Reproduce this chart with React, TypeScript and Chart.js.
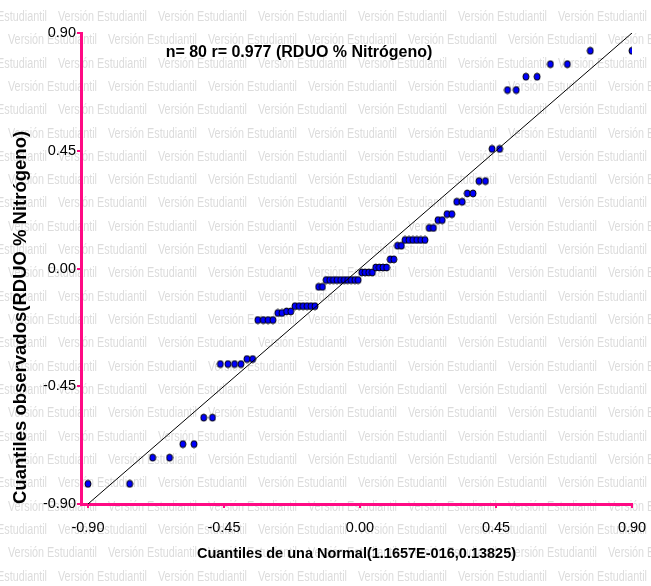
import { useEffect, useRef } from "react";
import { Chart, registerables } from "chart.js";

Chart.register(...registerables);

const xQuantiles = [
  -0.900, -0.762, -0.686, -0.630, -0.586, -0.549, -0.517, -0.488, -0.462, -0.437,
  -0.415, -0.394, -0.374, -0.355, -0.338, -0.320, -0.304, -0.288, -0.272, -0.258,
  -0.243, -0.229, -0.215, -0.201, -0.188, -0.175, -0.162, -0.149, -0.137, -0.124,
  -0.112, -0.100, -0.088, -0.076, -0.064, -0.052, -0.041, -0.029, -0.017, -0.006,
  0.006, 0.017, 0.029, 0.041, 0.052, 0.064, 0.076, 0.088, 0.100, 0.112,
  0.124, 0.137, 0.149, 0.162, 0.175, 0.188, 0.201, 0.215, 0.229, 0.243,
  0.258, 0.272, 0.288, 0.304, 0.320, 0.338, 0.355, 0.374, 0.394, 0.415,
  0.437, 0.462, 0.488, 0.517, 0.549, 0.586, 0.630, 0.686, 0.762, 0.900,
];

const observed = [
  -0.823, -0.823, -0.723, -0.723, -0.671, -0.671, -0.570, -0.570, -0.365, -0.365,
  -0.365, -0.365, -0.346, -0.346, -0.197, -0.197, -0.197, -0.197, -0.170, -0.170,
  -0.164, -0.164, -0.144, -0.144, -0.144, -0.144, -0.144, -0.144, -0.070, -0.070,
  -0.044, -0.044, -0.044, -0.044, -0.044, -0.044, -0.044, -0.044, -0.044, -0.044,
  -0.015, -0.015, -0.015, -0.015, 0.004, 0.004, 0.004, 0.004, 0.035, 0.035,
  0.087, 0.087, 0.109, 0.109, 0.109, 0.109, 0.109, 0.109, 0.155, 0.155,
  0.185, 0.185, 0.208, 0.208, 0.255, 0.255, 0.287, 0.287, 0.334, 0.334,
  0.457, 0.457, 0.682, 0.682, 0.733, 0.733, 0.781, 0.781, 0.832, 0.832,
];

const refLineX = [-0.9, 0.9];
const refLineY = [-0.9, 0.9];
const axisTicks = [-0.9, -0.45, 0, 0.45, 0.9];

const chartTitle = "n= 80 r= 0.977 (RDUO % Nitrógeno)";
const xTitle = "Cuantiles de una Normal(1.1657E-016,0.13825)";
const yTitle = "Cuantiles observados(RDUO % Nitrógeno)";
const watermark = "Versión Estudiantil";

const PINK = "#ff0a84";
const FAMILY = '"Liberation Sans", Arial, sans-serif';

function makeDot(): HTMLCanvasElement {
  const c = document.createElement("canvas");
  c.width = 8;
  c.height = 9;
  const g = c.getContext("2d")!;
  g.beginPath();
  g.ellipse(4, 4.5, 3.0, 3.5, 0, 0, Math.PI * 2);
  g.fillStyle = "#0000ff";
  g.fill();
  g.lineWidth = 1;
  g.strokeStyle = "#000000";
  g.stroke();
  return c;
}

const backgroundPlugin = {
  id: "bgWatermark",
  beforeDraw(chart: any) {
    const ctx = chart.ctx as CanvasRenderingContext2D;
    ctx.save();
    ctx.fillStyle = "#ffffff";
    ctx.fillRect(0, 0, chart.width, chart.height);
    ctx.font = `14px ${FAMILY}`;
    ctx.fillStyle = "#dcdcdc";
    ctx.textBaseline = "middle";
    ctx.textAlign = "left";
    const w = ctx.measureText(watermark).width;
    const sx = 89 / w;
    for (let k = 0; k < 25; k++) {
      const y = 17 + k * 23.33;
      const off = k % 2 === 0 ? 58 : 8;
      for (let x = off - 100; x < chart.width; x += 100) {
        ctx.save();
        ctx.translate(x, y);
        ctx.scale(sx, 1);
        ctx.fillText(watermark, 0, 0);
        ctx.restore();
      }
    }
    ctx.restore();
  },
};

const titlePlugin = {
  id: "innerTitle",
  afterDraw(chart: any) {
    const ctx = chart.ctx as CanvasRenderingContext2D;
    ctx.save();
    ctx.font = `bold 16px ${FAMILY}`;
    ctx.fillStyle = "#000000";
    ctx.textAlign = "center";
    ctx.textBaseline = "middle";
    ctx.fillText(chartTitle, 299, 53);
    ctx.restore();
  },
};

export default function App() {
  const canvasRef = useRef<HTMLCanvasElement | null>(null);

  useEffect(() => {
    document.body.style.margin = "0";
    const canvas = canvasRef.current;
    if (!canvas) return;
    const dot = makeDot();

    const chart = new Chart(canvas, {
      type: "scatter",
      data: {
        datasets: [
          {
            type: "line",
            data: refLineX.map((x, i) => ({ x, y: refLineY[i] })),
            borderColor: "#000000",
            borderWidth: 1,
            pointRadius: 0,
            fill: false,
          } as any,
          {
            type: "scatter",
            data: xQuantiles.map((x, i) => ({ x, y: observed[i] })),
            pointStyle: dot as any,
            pointRadius: 4,
            backgroundColor: "#0000ff",
            borderColor: "#000000",
          } as any,
        ],
      },
      options: {
        responsive: false,
        animation: false,
        devicePixelRatio: 1,
        layout: { padding: { top: 33, right: 19, left: 0, bottom: 0 } },
        plugins: {
          legend: { display: false },
          tooltip: { enabled: false },
          title: { display: false },
        },
        scales: {
          x: {
            type: "linear",
            position: "bottom",
            min: -0.923,
            max: 0.9,
            afterBuildTicks: (s: any) => {
              s.ticks = axisTicks.map((v) => ({ value: v }));
            },
            afterFit: (s: any) => {
              s.height = 82;
            },
            ticks: {
              callback: (v: any) => Number(v).toFixed(2),
              font: { family: FAMILY, size: 14.5, lineHeight: 2.3 },
              color: "#000000",
              padding: 3,
              maxRotation: 0,
              autoSkip: false,
            },
            grid: {
              drawOnChartArea: false,
              drawTicks: true,
              tickLength: 4,
              color: PINK,
              lineWidth: 2,
            },
            border: { display: true, color: PINK, width: 3 },
            title: {
              display: true,
              text: xTitle,
              font: { family: FAMILY, size: 14.5, weight: "bold" },
              color: "#000000",
              padding: { top: 0, bottom: 23 },
            },
          },
          y: {
            type: "linear",
            position: "left",
            min: -0.9,
            max: 0.9,
            afterBuildTicks: (s: any) => {
              s.ticks = axisTicks.map((v) => ({ value: v }));
            },
            afterFit: (s: any) => {
              s.width = 81;
            },
            ticks: {
              callback: (v: any) => Number(v).toFixed(2),
              font: { family: FAMILY, size: 14.5 },
              color: "#000000",
              padding: 1,
              autoSkip: false,
            },
            grid: {
              drawOnChartArea: false,
              drawTicks: true,
              tickLength: 4,
              color: PINK,
              lineWidth: 2,
            },
            border: { display: true, color: PINK, width: 3 },
            title: {
              display: true,
              text: yTitle,
              align: "start",
              font: { family: FAMILY, size: 18.5, weight: "bold" },
              color: "#000000",
              padding: { top: 10, bottom: 0 },
            },
          },
        },
      },
      plugins: [backgroundPlugin, titlePlugin],
    });

    return () => {
      chart.destroy();
    };
  }, []);

  return (
    <div style={{ position: "absolute", left: 0, top: 0, width: 651, height: 586 }}>
      <canvas ref={canvasRef} width={651} height={586} />
    </div>
  );
}
